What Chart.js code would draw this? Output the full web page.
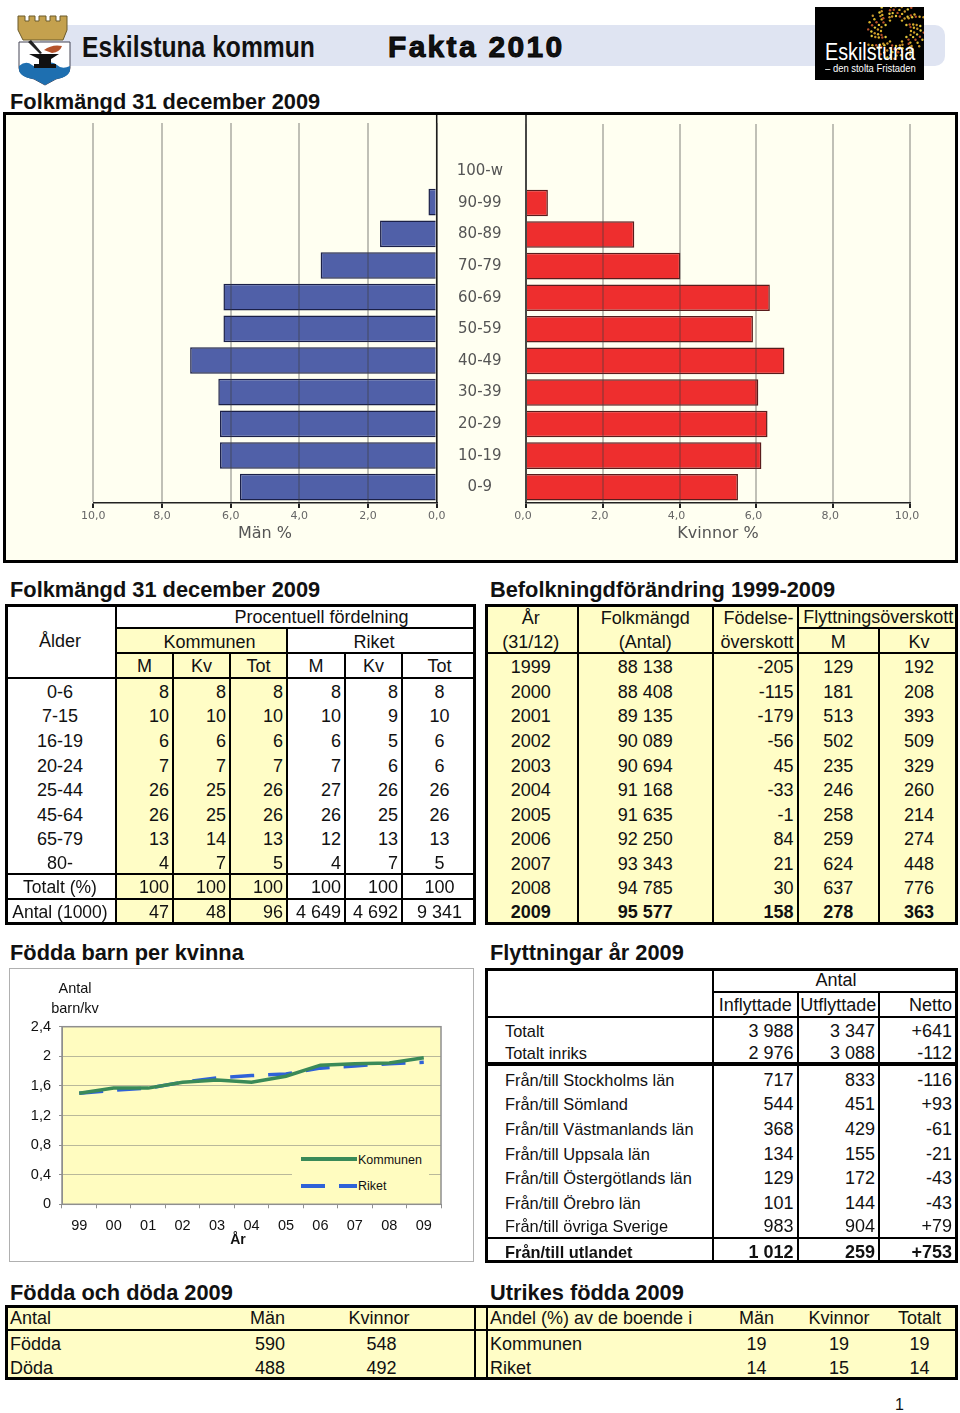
<!DOCTYPE html>
<html lang="sv">
<head>
<meta charset="utf-8">
<title>Eskilstuna kommun Fakta 2010</title>
<script src="https://cdn.jsdelivr.net/npm/chart.js@4/dist/chart.umd.min.js"></script>
<style>
html, body { margin: 0; padding: 0; background: #fff; }
body { position: relative; width: 960px; height: 1413px; overflow: hidden; font-family: "Liberation Sans", Arial, sans-serif; color: #111; }
.abs { position: absolute; }
h2 { position: absolute; margin: 0; font-size: 21.8px; line-height: 24px; font-weight: bold; white-space: nowrap; }
canvas { position: absolute; display: block; }
table { position: absolute; border-spacing: 0; table-layout: fixed; font-size: 18px; line-height: 18px; }
td { padding: 2px 0 0 0; box-sizing: border-box; white-space: nowrap; overflow: hidden; text-align: center; }
td.r { text-align: right; padding-right: 3px; }
td.r6 { text-align: right; padding-right: 6px; }
td.l { text-align: left; }
td.y { background: #fffdc6; }
td.br { border-right: 2px solid #000; }
td.bb { border-bottom: 2px solid #000; }
td.bbb { border-bottom: 4px solid #000; }
td.b { font-weight: bold; }
td.small { font-size: 16.4px; }
td.mid { font-size: 17.5px; }
td.pt0 { padding-top: 0; }
.frame { position: absolute; box-sizing: border-box; border: 3px solid #000; pointer-events: none; }
.legtxt { position: absolute; font-size: 12.5px; line-height: 14px; }
.legline { position: absolute; height: 3.5px; }
</style>
</head>
<body>
<!-- sidhuvud -->
<div class="abs" style="left:40px;top:25px;width:905px;height:41px;background:#dfe4f2;border-radius:10px"></div>
<svg class="abs" style="left:16px;top:14px" width="57" height="72" viewBox="0 0 57 72">
  <path d="M2 2h7v5h4V2h6v5h4V2h7v5h4V2h6v5h4V2h7v14l-4 10H7L2 16z" fill="#c4a14e" stroke="#6b5a2a"/>
  <path d="M3 28h51v26q0 8-14 11l-11 6-11-6q-15-3-15-11z" fill="#fff" stroke="#445"/>
  <path d="M3 52q7-6 13-1t13 0 12 0 13 1v3q0 8-14 10l-11 6-11-6q-15-2-15-10z" fill="#1e6fb0"/>
  <path d="M13 40h30l-8 5v5h5v4H18v-4h5v-5z" fill="#111"/>
  <path d="M28 36q8-6 18-4-2 6-10 7z" fill="#b5522a"/>
  <path d="M15 26l11 13-2 1-12-12z" fill="#222"/>
</svg>
<div class="abs" style="left:82px;top:30px;font:bold 29px/34px 'Liberation Sans',sans-serif;white-space:nowrap;transform:scaleX(0.85);transform-origin:left center">Eskilstuna kommun</div>
<div class="abs" style="left:388px;top:29px;font:bold 30px/36px 'Liberation Sans',sans-serif;letter-spacing:2.3px;white-space:nowrap;-webkit-text-stroke:.9px #000">Fakta 2010</div>
<div class="abs" style="left:815px;top:7px;width:109px;height:73px;background:#000"></div>
<svg class="abs" style="left:815px;top:7px" width="109" height="73" id="logoStar"></svg>
<div class="abs" style="left:825px;top:39px;color:#fff;font:23px/26px 'Liberation Sans',sans-serif;white-space:nowrap;transform:scaleX(0.86);transform-origin:left center">Eskilstuna</div>
<div class="abs" style="left:825px;top:62px;color:#fff;font:10.5px/12px 'Liberation Sans',sans-serif;white-space:nowrap;transform:scaleX(0.9);transform-origin:left center">– den stolta Fristaden</div>

<h2 style="left:10px;top:90px">Folkmängd 31 december 2009</h2>
<div class="abs" style="left:3px;top:112px;width:955px;height:451px;box-sizing:border-box;border:3px solid #000;background:#fffff1"></div>
<canvas id="menChart" width="445" height="445" style="left:5px;top:115px"></canvas>
<canvas id="womenChart" width="520" height="445" style="left:437px;top:115px"></canvas>

<h2 style="left:10px;top:578px">Folkmängd 31 december 2009</h2>
<h2 style="left:490px;top:578px">Befolkningdförändring 1999-2009</h2>
<h2 style="left:10px;top:941px">Födda barn per kvinna</h2>
<h2 style="left:490px;top:941px">Flyttningar år 2009</h2>
<h2 style="left:10px;top:1281px">Födda och döda 2009</h2>
<h2 style="left:490px;top:1281px">Utrikes födda 2009</h2>

<div class="abs" style="left:9px;top:968px;width:465px;height:294px;box-sizing:border-box;border:1.5px solid #b0b0b0"></div>
<canvas id="birthChart" width="461" height="289" style="left:11px;top:970px"></canvas>
<div class="abs" style="left:35px;top:978px;width:80px;text-align:center;font-size:14.5px;line-height:20px">Antal<br>barn/kv</div>
<div class="abs" style="left:218px;top:1231px;width:40px;text-align:center;font-size:14px;line-height:16px;font-weight:bold">År</div>
<div class="abs" style="left:292px;top:1150px;width:137px;height:51px;background:#fffcc0"></div>
<div class="legline" style="left:301px;top:1157px;width:56px;background:#3a8a58"></div>
<div class="legtxt" style="left:358px;top:1153px">Kommunen</div>
<div class="legline" style="left:301px;top:1184px;width:24px;background:#2f62d8"></div>
<div class="legline" style="left:339px;top:1184px;width:18px;background:#2f62d8"></div>
<div class="legtxt" style="left:358px;top:1179px">Riket</div>

<div class="abs" style="left:895px;top:1396px;font-size:16px;line-height:18px">1</div>

<script>
// Befolkningspyramid
const pyramidAges = ['', '100-w', '90-99', '80-89', '70-79', '60-69', '50-59', '40-49', '30-39', '20-29', '10-19', '0-9'];
const menPct = [null, 0, 0.24, 1.65, 3.38, 6.21, 6.21, 7.18, 6.36, 6.31, 6.31, 5.73];
const womenPct = [null, 0, 0.57, 2.82, 4.02, 6.35, 5.91, 6.73, 6.05, 6.29, 6.13, 5.52];

// Födda barn per kvinna
const birthYears = ['99', '00', '01', '02', '03', '04', '05', '06', '07', '08', '09'];
const birthKommunen = [1.50, 1.57, 1.57, 1.65, 1.68, 1.65, 1.73, 1.88, 1.90, 1.91, 1.98];
const birthRiket = [1.50, 1.54, 1.57, 1.65, 1.71, 1.74, 1.76, 1.84, 1.87, 1.90, 1.92];

// Folkmängd
const ageRows = ['0-6', '7-15', '16-19', '20-24', '25-44', '45-64', '65-79', '80-'];
const komM = ['8', '10', '6', '7', '26', '26', '13', '4'];
const komKv = ['8', '10', '6', '7', '25', '25', '14', '7'];
const komTot = ['8', '10', '6', '7', '26', '26', '13', '5'];
const rikM = ['8', '10', '6', '7', '27', '26', '12', '4'];
const rikKv = ['8', '9', '5', '6', '26', '25', '13', '7'];
const rikTot = ['8', '10', '6', '6', '26', '26', '13', '5'];
const totalRow = ['100', '100', '100', '100', '100', '100'];
const antalRow = ['47', '48', '96', '4 649', '4 692', '9 341'];

// Befolkningsförändring
const changeYears = ['1999', '2000', '2001', '2002', '2003', '2004', '2005', '2006', '2007', '2008', '2009'];
const changePop = ['88 138', '88 408', '89 135', '90 089', '90 694', '91 168', '91 635', '92 250', '93 343', '94 785', '95 577'];
const changeBirth = ['-205', '-115', '-179', '-56', '45', '-33', '-1', '84', '21', '30', '158'];
const changeM = ['129', '181', '513', '502', '235', '246', '258', '259', '624', '637', '278'];
const changeKv = ['192', '208', '393', '509', '329', '260', '214', '274', '448', '776', '363'];

// Flyttningar
const moveNames = ['Totalt', 'Totalt inriks', 'Från/till Stockholms län', 'Från/till Sömland', 'Från/till Västmanlands län', 'Från/till Uppsala län', 'Från/till Östergötlands län', 'Från/till Örebro län', 'Från/till övriga Sverige', 'Från/till utlandet'];
const moveIn = ['3 988', '2 976', '717', '544', '368', '134', '129', '101', '983', '1 012'];
const moveOut = ['3 347', '3 088', '833', '451', '429', '155', '172', '144', '904', '259'];
const moveNet = ['+641', '-112', '-116', '+93', '-61', '-21', '-43', '-43', '+79', '+753'];

// Födda och döda, utrikes födda
const vitalRows = ['Födda', 'Döda'];
const vitalMen = ['590', '488'];
const vitalWomen = ['548', '492'];
const foreignRows = ['Kommunen', 'Riket'];
const foreignMen = ['19', '14'];
const foreignWomen = ['19', '15'];
const foreignTotal = ['19', '14'];

Chart.defaults.animation = false;
Chart.defaults.responsive = false;
Chart.defaults.font.family = "'Liberation Sans', Arial, sans-serif";

// svart nollinje upp till ramen
const zeroSpine = {
    id: 'zeroSpine',
    afterDatasetsDraw(chart) {
        const x = chart.scales.x.getPixelForValue(0);
        const ctx = chart.ctx;
        ctx.save();
        ctx.strokeStyle = '#111';
        ctx.lineWidth = 1.5;
        ctx.beginPath();
        ctx.moveTo(x, 0);
        ctx.lineTo(x, chart.chartArea.bottom);
        ctx.stroke();
        ctx.restore();
    }
};

function pyramidAxis(reverse, title, labelOffset) {
    return {
        type: 'linear',
        min: 0,
        max: 10,
        reverse: reverse,
        position: 'bottom',
        afterFit: scale => { scale.height = 57; },
        // border.z must be above grid.z, otherwise the axis line lands at the top of the canvas
        border: { color: '#222', width: 1.5, z: 2 },
        grid: { color: 'rgba(60,60,60,0.32)', lineWidth: 2, z: 1, tickLength: 5, tickColor: '#222' },
        ticks: {
            stepSize: 2,
            padding: 2,
            labelOffset: labelOffset,
            color: '#666',
            maxRotation: 0,
            font: { family: "'DejaVu Sans'", size: 11 },
            callback: v => v.toFixed(1).replace('.', ',')
        },
        title: { display: true, text: title, color: '#555', font: { family: "'DejaVu Sans'", size: 16 }, padding: { top: 0, bottom: 17 } }
    };
}

new Chart(document.getElementById('menChart'), {
    type: 'bar',
    data: {
        labels: pyramidAges,
        datasets: [{ label: 'Män %', data: menPct, backgroundColor: '#5060a8', borderColor: '#1b2048', borderWidth: 1.5, barPercentage: 0.84, categoryPercentage: 1 }]
    },
    options: {
        indexAxis: 'y',
        layout: { padding: { left: 88.3, right: 13.3, top: 8, bottom: 0 } },
        plugins: { legend: { display: false }, tooltip: { enabled: false } },
        scales: {
            x: pyramidAxis(true, 'Män %', 0),
            y: { type: 'category', display: false }
        }
    },
    plugins: [zeroSpine]
});

new Chart(document.getElementById('womenChart'), {
    type: 'bar',
    data: {
        labels: pyramidAges,
        datasets: [{ label: 'Kvinnor %', data: womenPct, backgroundColor: '#ee2e2e', borderColor: '#5a1c1c', borderWidth: 1.5, barPercentage: 0.84, categoryPercentage: 1 }]
    },
    options: {
        indexAxis: 'y',
        layout: { padding: { left: 0, right: 47, top: 8, bottom: 0 } },
        plugins: { legend: { display: false }, tooltip: { enabled: false } },
        scales: {
            x: pyramidAxis(false, 'Kvinnor %', -3),
            y: {
                type: 'category',
                afterFit: scale => { scale.width = 89; },
                border: { display: false },
                grid: { display: false, tickLength: 23 },
                ticks: { crossAlign: 'center', padding: 0, color: '#555', autoSkip: false, font: { family: "'DejaVu Sans'", size: 15 } }
            }
        }
    },
    plugins: [zeroSpine]
});

const plotBox = {
    id: 'plotBox',
    beforeDraw(chart) {
        const a = chart.chartArea;
        chart.ctx.fillStyle = '#fffcc0';
        chart.ctx.fillRect(a.left, a.top, a.width, a.height);
    },
    afterDraw(chart) {
        const a = chart.chartArea;
        chart.ctx.strokeStyle = '#8f8f8f';
        chart.ctx.lineWidth = 1.5;
        chart.ctx.strokeRect(a.left, a.top, a.width, a.height);
    }
};

new Chart(document.getElementById('birthChart'), {
    type: 'line',
    data: {
        labels: birthYears,
        datasets: [
            { label: 'Kommunen', data: birthKommunen, borderColor: '#3a8a58', borderWidth: 3.5, pointRadius: 0, tension: 0, borderCapStyle: 'butt' },
            { label: 'Riket', data: birthRiket, borderColor: '#2f62d8', borderWidth: 3.5, borderDash: [24, 14], pointRadius: 0, tension: 0, borderCapStyle: 'butt' }
        ]
    },
    options: {
        layout: { padding: { left: 0, right: 31, top: 56.7, bottom: 0 } },
        plugins: { legend: { display: false }, tooltip: { enabled: false } },
        scales: {
            x: {
                type: 'category',
                offset: true,
                afterFit: scale => { scale.height = 54.7; },
                border: { color: '#8f8f8f' },
                grid: { offset: true, drawOnChartArea: false, tickLength: 4, color: '#8f8f8f' },
                ticks: { padding: 9, color: '#111', maxRotation: 0, font: { size: 14.5 } }
            },
            y: {
                min: 0,
                max: 2.4,
                afterFit: scale => { scale.width = 51; },
                border: { color: '#8f8f8f' },
                grid: { color: '#b9b89a', lineWidth: 1, tickLength: 3, tickColor: '#8f8f8f' },
                ticks: { stepSize: 0.4, padding: 8, color: '#111', font: { size: 14.5 }, callback: v => String(Math.round(v * 10) / 10).replace('.', ',') }
            }
        }
    },
    plugins: [plotBox]
});

// tabeller: cell(text, klasser, colspan, rowspan, extra padding)
function cell(text, cls, colSpan, rowSpan, padLeft, padRight) {
    return { text: text, cls: cls || '', colSpan: colSpan || 1, rowSpan: rowSpan || 1, pad: padLeft, padR: padRight };
}

function buildTable(left, top, colEdges, rowHeights, rows) {
    const table = document.createElement('table');
    const width = colEdges[colEdges.length - 1] - left;
    const height = rowHeights.reduce((s, h) => s + h, 0);
    table.style.left = left + 'px';
    table.style.top = top + 'px';
    table.style.width = width + 'px';
    const colgroup = document.createElement('colgroup');
    let prev = left;
    colEdges.forEach(edge => {
        const col = document.createElement('col');
        col.style.width = (edge - prev) + 'px';
        colgroup.appendChild(col);
        prev = edge;
    });
    table.appendChild(colgroup);
    rows.forEach((row, i) => {
        const tr = document.createElement('tr');
        tr.style.height = rowHeights[i] + 'px';
        row.forEach(c => {
            const td = document.createElement('td');
            td.className = c.cls;
            td.colSpan = c.colSpan;
            td.rowSpan = c.rowSpan;
            td.textContent = c.text;
            if (c.pad) td.style.paddingLeft = c.pad + 'px';
            if (c.padR) td.style.paddingRight = c.padR + 'px';
            td.style.height = (rowHeights[i]) + 'px';
            tr.appendChild(td);
        });
        table.appendChild(tr);
    });
    document.body.appendChild(table);
    const frame = document.createElement('div');
    frame.className = 'frame';
    frame.style.left = left + 'px';
    frame.style.top = top + 'px';
    frame.style.width = width + 'px';
    frame.style.height = height + 'px';
    document.body.appendChild(frame);
}

// Folkmängd
const popColumns = [komM, komKv, komTot, rikM, rikKv];
const popRows = [
    [cell('Ålder', 'br bb', 1, 3), cell('Procentuell fördelning', 'bb', 6, 1, 50)],
    [cell('Kommunen', 'y br bb', 3, 1, 16), cell('Riket', 'bb', 3, 1, 0, 16)],
    [cell('M', 'y br bb'), cell('Kv', 'y br bb'), cell('Tot', 'y br bb'), cell('M', 'br bb'), cell('Kv', 'br bb'), cell('Tot', 'bb')]
];
ageRows.forEach((age, i) => {
    const edge = i === ageRows.length - 1 ? ' bb' : '';
    const row = [cell(age, 'br' + edge)];
    popColumns.forEach((col, c) => row.push(cell(col[i], 'r br' + (c < 3 ? ' y' : '') + edge)));
    row.push(cell(rikTot[i], edge.trim()));
    popRows.push(row);
});
[['Totalt (%)', totalRow, ' bb'], ['Antal (1000)', antalRow, ' pt0']].forEach(r => {
    const row = [cell(r[0], 'mid br' + r[2])];
    r[1].slice(0, 5).forEach((v, c) => row.push(cell(v, 'r br' + (c < 3 ? ' y' : '') + r[2])));
    row.push(cell(r[1][5], r[2].trim()));
    popRows.push(row);
});
buildTable(5, 604, [117, 174, 231, 288, 346, 403, 476],
    [25, 25, 24.5, 24.6, 24.6, 24.6, 24.6, 24.6, 24.6, 24.6, 24.7, 24.3, 24.9], popRows);

// Befolkningsförändring
const chgRows = [
    [cell('År', 'y br', 1), cell('Folkmängd', 'y br'), cell('Födelse-', 'y br r'), cell('Flyttningsöverskott', 'y bb', 2)],
    [cell('(31/12)', 'y br bb'), cell('(Antal)', 'y br bb'), cell('överskott', 'y br bb r'), cell('M', 'y br bb'), cell('Kv', 'y bb')]
];
changeYears.forEach((year, i) => {
    const b = i === changeYears.length - 1 ? ' b pt0' : '';
    chgRows.push([cell(year, 'y br' + b), cell(changePop[i], 'y br' + b), cell(changeBirth[i], 'y br r' + b), cell(changeM[i], 'y br' + b), cell(changeKv[i], 'y' + b)]);
});
buildTable(485, 604, [578.5, 714, 798.5, 880, 958],
    [25, 25, 24.5, 24.6, 24.6, 24.6, 24.6, 24.6, 24.6, 24.6, 24.6, 24.3, 24.9], chgRows);

// Flyttningar
const moveRows = [
    [cell('', 'br bb', 1, 2), cell('Antal', 'bb', 3)],
    [cell('Inflyttade', 'br bb'), cell('Utflyttade', 'br bb'), cell('Netto', 'bb r6')]
];
moveNames.forEach((name, i) => {
    let edge = '';
    if (i === 1) edge = ' bbb';
    if (i === moveNames.length - 2) edge = ' bb';
    const b = i === moveNames.length - 1 ? ' b' : '';
    moveRows.push([cell(name, 'small l br' + edge + b, 1, 1, 20), cell(moveIn[i], 'r br' + edge + b), cell(moveOut[i], 'r br' + edge + b), cell(moveNet[i], 'r6' + edge + b)]);
});
buildTable(485, 968, [714, 798.5, 880, 958],
    [24.5, 25, 24.7, 24.3, 24.6, 24.6, 24.6, 24.6, 24.6, 24.6, 24.8, 24.4], moveRows);

// Födda och döda + utrikes födda, en gemensam ram
const bottomRows = [[
    cell('Antal', 'y l bb', 1, 1, 5), cell('Män', 'y r bb'), cell('Kvinnor', 'y bb', 1, 1, 0, 5), cell('', 'y bb'),
    cell('Andel (%) av de boende i', 'y l bb', 1, 1, 4), cell('Män', 'y bb'), cell('Kvinnor', 'y bb'), cell('Totalt', 'y bb')
]];
vitalRows.forEach((name, i) => {
    bottomRows.push([
        cell(name, 'y l', 1, 1, 5), cell(vitalMen[i], 'y r'), cell(vitalWomen[i], 'y'), cell('', 'y'),
        cell(foreignRows[i], 'y l', 1, 1, 4), cell(foreignMen[i], 'y'), cell(foreignWomen[i], 'y'), cell(foreignTotal[i], 'y')
    ]);
});
buildTable(5, 1305, [200, 288, 475, 486, 716, 797, 881, 958], [25.5, 24.5, 24.5], bottomRows);
// dubbla lodlinjer mellan de två nedre tabellerna
[474, 485.5].forEach(x => {
    const line = document.createElement('div');
    line.className = 'abs';
    line.style.cssText = 'left:' + x + 'px;top:1305px;width:2px;height:74.5px;background:#000';
    document.body.appendChild(line);
});

// logotypens stjärna, prickar längs strålar runt ett mörkt centrum
const star = document.getElementById('logoStar');
const dotColours = ['#d9b22b', '#c9952a', '#e3c93a', '#b8502a'];
let markup = '';
for (let ray = 0; ray < 24; ray++) {
    const angle = ray * Math.PI / 12;
    for (let step = 0; step < 5; step++) {
        const radius = 12 + step * 3.2 + (ray % 2) * 3 + (ray % 3 === 0 ? 3 : 0);
        const cx = 81 + Math.cos(angle + step * 0.08) * radius;
        const cy = 24 + Math.sin(angle + step * 0.08) * radius;
        markup += '<circle cx="' + cx.toFixed(1) + '" cy="' + cy.toFixed(1) + '" r="1.2" fill="' + dotColours[(ray + step) % 4] + '"/>';
    }
}
star.innerHTML = markup;
</script>
</body>
</html>
